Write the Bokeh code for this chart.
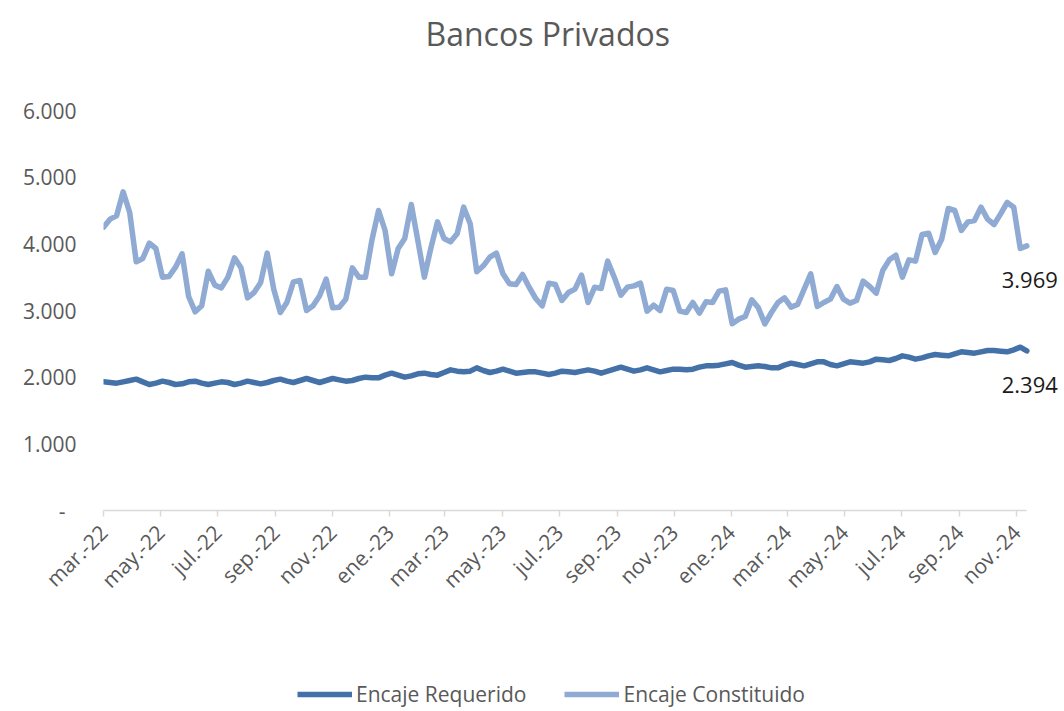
import math
from datetime import datetime, timedelta, timezone
from bokeh.plotting import figure
from bokeh.layouts import column
from bokeh.models import (Range1d, FixedTicker, CustomJSTickFormatter, Legend,
                          LegendItem, ColumnDataSource, Title)
from bokeh.embed import file_html
from bokeh.resources import INLINE
from bokeh.core.properties import value

# ---------------- data ----------------
fecha_inicio = datetime(2022, 3, 1)
n_semanas = 142
fechas = [fecha_inicio + timedelta(days=7 * i) for i in range(n_semanas)]

encaje_requerido = [
    1930, 1920, 1910, 1930, 1950, 1970, 1930, 1890, 1910, 1940,
    1920, 1890, 1900, 1930, 1940, 1910, 1890, 1910, 1930, 1920,
    1890, 1910, 1940, 1920, 1900, 1920, 1950, 1970, 1940, 1920,
    1950, 1980, 1950, 1920, 1950, 1980, 1960, 1940, 1950, 1980,
    2000, 1990, 1990, 2030, 2060, 2030, 2000, 2020, 2050, 2060,
    2040, 2030, 2070, 2110, 2090, 2080, 2090, 2140, 2100, 2070,
    2090, 2120, 2090, 2060, 2070, 2080, 2080, 2060, 2040, 2060,
    2090, 2080, 2070, 2090, 2110, 2090, 2060, 2090, 2120, 2150,
    2120, 2090, 2110, 2140, 2110, 2080, 2100, 2120, 2120, 2110,
    2120, 2150, 2170, 2170, 2180, 2200, 2220, 2180, 2150, 2160,
    2170, 2160, 2140, 2140, 2180, 2210, 2190, 2170, 2200, 2230,
    2230, 2190, 2170, 2200, 2230, 2220, 2210, 2230, 2270, 2260,
    2250, 2280, 2320, 2300, 2270, 2290, 2320, 2340, 2330, 2320,
    2350, 2380, 2370, 2360, 2380, 2400, 2400, 2390, 2380, 2410,
    2450, 2394,
]

encaje_constituido = [
    4250, 4370, 4420, 4780, 4470, 3730, 3780, 4010, 3930, 3500,
    3510, 3650, 3850, 3210, 2980, 3070, 3590, 3380, 3340, 3500,
    3790, 3640, 3190, 3270, 3420, 3860, 3320, 2970, 3120, 3430,
    3450, 3000, 3070, 3220, 3470, 3040, 3050, 3170, 3640, 3500,
    3500, 4060, 4500, 4200, 3550, 3930, 4080, 4590, 4050, 3500,
    3940, 4330, 4080, 4030, 4150, 4550, 4300, 3580, 3670, 3800,
    3860, 3550, 3400, 3390, 3540, 3350, 3180, 3070, 3410, 3390,
    3150, 3270, 3320, 3530, 3120, 3350, 3330, 3740, 3500, 3230,
    3350, 3370, 3410, 2990, 3080, 3000, 3320, 3300, 2990, 2970,
    3120, 2960, 3130, 3120, 3290, 3310, 2800, 2870, 2910, 3160,
    3040, 2800, 2970, 3120, 3190, 3050, 3090, 3320, 3550, 3060,
    3120, 3170, 3360, 3170, 3110, 3150, 3440, 3360, 3260, 3600,
    3760, 3830, 3500, 3760, 3740, 4140, 4160, 3870, 4070, 4530,
    4500, 4200, 4330, 4350, 4550, 4370, 4290, 4450, 4620, 4550,
    3930, 3969,
]

ticks_x_fechas = [(2022, 3), (2022, 5), (2022, 7), (2022, 9), (2022, 11),
                  (2023, 1), (2023, 3), (2023, 5), (2023, 7), (2023, 9), (2023, 11),
                  (2024, 1), (2024, 3), (2024, 5), (2024, 7), (2024, 9), (2024, 11)]
ticks_x_etiquetas = ["mar.-22", "may.-22", "jul.-22", "sep.-22", "nov.-22",
                     "ene.-23", "mar.-23", "may.-23", "jul.-23", "sep.-23", "nov.-23",
                     "ene.-24", "mar.-24", "may.-24", "jul.-24", "sep.-24", "nov.-24"]
ticks_y = [0, 1000, 2000, 3000, 4000, 5000, 6000]

titulo = "Bancos Privados"
nombres_series = ["Encaje Requerido", "Encaje Constituido"]

# ---------------- styles ----------------
FONT = "Open Sans"
GRIS = "#595959"
C_REQ = "#4472A8"
C_CON = "#8FAAD3"

src = ColumnDataSource(dict(fecha=fechas, requerido=encaje_requerido,
                            constituido=encaje_constituido))

# extra room on the right of the frame so the end labels are not clipped
x_fin = fechas[-1] + timedelta(days=36)

p = figure(width=1060, height=680, x_axis_type="datetime", title=None,
           x_range=Range1d(fechas[0], x_fin), y_range=Range1d(0, 6000),
           output_backend="svg", toolbar_location=None,
           min_border_left=103, min_border_right=0,
           min_border_top=110, min_border_bottom=170)
p.outline_line_color = None
p.grid.visible = False
p.background_fill_color = "white"
p.border_fill_color = "white"

# title (spacer first, so it sits between the title and the frame)
p.add_layout(Title(text="\u00a0", text_font_size="29px", text_font=FONT), "above")
p.add_layout(Title(text=titulo, text_font=FONT, text_font_size="32px",
                   text_font_style="normal", text_color=GRIS,
                   align="left", offset=322), "above")

r1 = p.line(x="fecha", y="requerido", source=src, line_color=C_REQ,
            line_width=5.5, line_cap="round", line_join="round")
r2 = p.line(x="fecha", y="constituido", source=src, line_color=C_CON,
            line_width=5.5, line_cap="round", line_join="round")

# end labels
ult_vals = [encaje_constituido[-1], encaje_requerido[-1]]
p.text(x=[fechas[-1], fechas[-1]], y=ult_vals,
       text=[f"{v/1000:.3f}" for v in ult_vals],
       text_align="right", text_baseline="middle", x_offset=31, y_offset=34,
       text_font=value(FONT), text_font_size="22px", text_color="#1a1a1a")

# x axis
tick_ms = [datetime(y, m, 1, tzinfo=timezone.utc).timestamp() * 1000 for y, m in ticks_x_fechas]
p.xaxis.ticker = FixedTicker(ticks=tick_ms)
p.xaxis.formatter = CustomJSTickFormatter(args=dict(tks=tick_ms, labs=ticks_x_etiquetas), code="""
    let best = 0, bd = Infinity;
    for (let i = 0; i < tks.length; i++) { const d = Math.abs(tks[i] - tick); if (d < bd) { bd = d; best = i; } }
    return labs[best];
""")
p.xaxis.bounds = (fechas[0], fechas[-1])
p.xaxis.major_label_orientation = math.pi / 4
p.xaxis.axis_line_color = "#d9d9d9"
p.xaxis.axis_line_width = 1.5
p.xaxis.major_tick_line_color = "#d9d9d9"
p.xaxis.major_tick_line_width = 1.5
p.xaxis.major_tick_in = 0
p.xaxis.major_tick_out = 6
p.xaxis.minor_tick_line_color = None
p.xaxis.major_label_text_font = FONT
p.xaxis.major_label_text_font_size = "21px"
p.xaxis.major_label_text_color = GRIS
p.xaxis.major_label_standoff = 12

# y axis
p.yaxis.ticker = FixedTicker(ticks=ticks_y)
p.yaxis.formatter = CustomJSTickFormatter(code="""
    return tick == 0 ? '-\\u00a0\\u00a0' : (tick / 1000).toFixed(3);
""")
p.yaxis.axis_line_color = None
p.yaxis.major_tick_line_color = None
p.yaxis.minor_tick_line_color = None
p.yaxis.major_tick_in = 0
p.yaxis.major_tick_out = 0
p.yaxis.major_label_standoff = 27
p.yaxis.major_label_text_font = FONT
p.yaxis.major_label_text_font_size = "21px"
p.yaxis.major_label_text_color = GRIS

# ---------------- legend strip ----------------
pl = figure(width=1060, height=30, title=None, output_backend="svg",
            toolbar_location=None, x_range=Range1d(0, 1), y_range=Range1d(0, 1),
            min_border_left=0, min_border_right=0, min_border_top=0, min_border_bottom=0)
pl.axis.visible = False
pl.grid.visible = False
pl.outline_line_color = None
pl.background_fill_color = "white"
pl.border_fill_color = "white"
# same series, outside this strip's ranges: only used for the legend keys
l1 = pl.line(x="fecha", y="requerido", source=src, line_color=C_REQ, line_width=5.5)
l2 = pl.line(x="fecha", y="constituido", source=src, line_color=C_CON, line_width=5.5)

legend = Legend(items=[LegendItem(label=nombres_series[0], renderers=[l1]),
                       LegendItem(label=nombres_series[1], renderers=[l2])],
                orientation="horizontal", location=(194, 2),
                glyph_width=55, glyph_height=22, label_height=22,
                label_standoff=4, spacing=38, padding=0, margin=0,
                border_line_color=None, background_fill_alpha=0,
                label_text_font=FONT, label_text_font_size="21px",
                label_text_color=GRIS)
pl.add_layout(legend)

layout = column(p, pl, spacing=0)
open("out.html", "w").write(file_html(layout, INLINE))
